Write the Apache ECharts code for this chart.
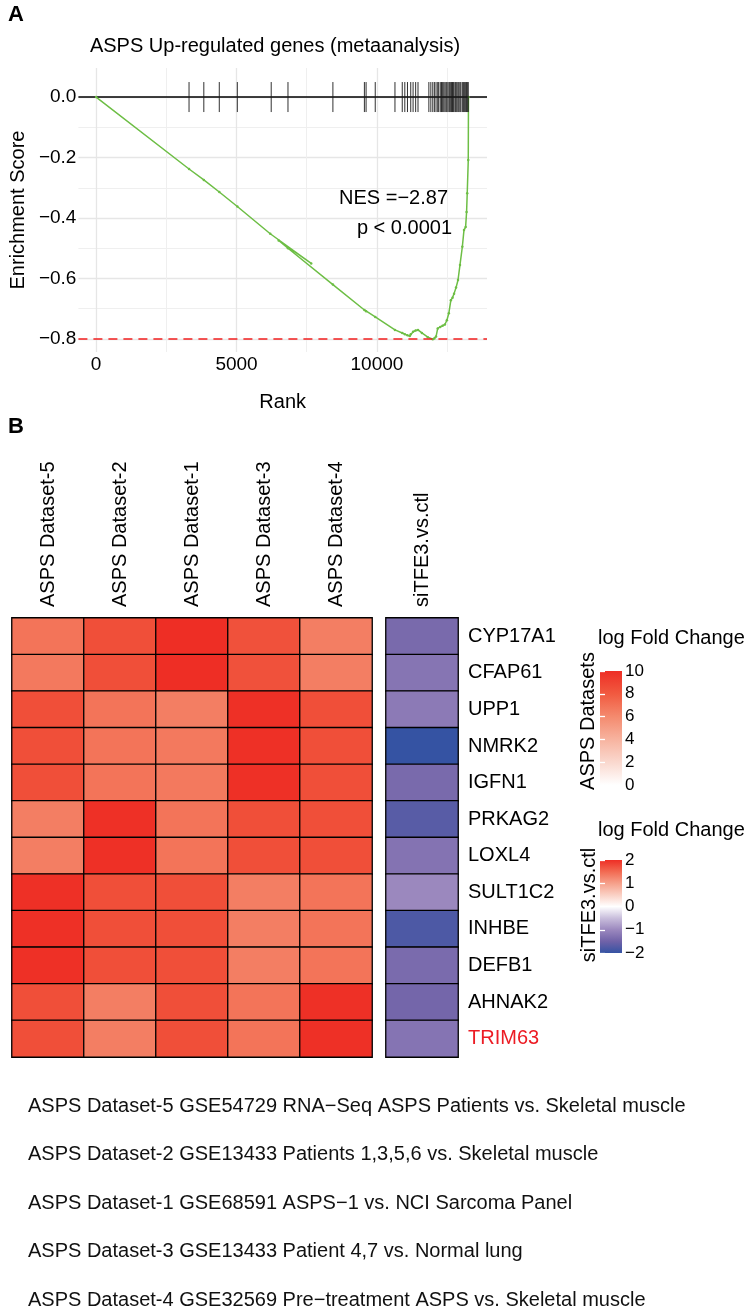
<!DOCTYPE html>
<html>
<head>
<meta charset="utf-8">
<script src="https://cdn.jsdelivr.net/npm/echarts@6/dist/echarts.min.js"></script>
<style>
html,body{margin:0;padding:0;background:#fff;}
#c{width:749px;height:1309px;}
</style>
</head>
<body>
<div id="c"></div>
<script>
// ---------------- DATA ----------------
// Panel A: running enrichment score (rank, ES) in drawing order
const esRank  = [0, 3309, 3835, 4386, 5028, 6200, 7660, 6500, 6832, 8432, 9554, 9614, 9940, 10642, 10902, 10993, 11088, 11170, 11204, 11288, 11379, 11463, 11600, 11813, 11989, 12046, 12105, 12165, 12256, 12340, 12421, 12491, 12560, 12632, 12691, 12747, 12818, 12888, 12958, 13042, 13100, 13158, 13193, 13216, 13253, 13260];
const esScore = [0, -0.238, -0.274, -0.314, -0.362, -0.452, -0.550, -0.474, -0.500, -0.620, -0.704, -0.708, -0.727, -0.770, -0.780, -0.784, -0.788, -0.790, -0.784, -0.776, -0.772, -0.770, -0.780, -0.794, -0.801, -0.798, -0.792, -0.765, -0.760, -0.756, -0.752, -0.738, -0.715, -0.672, -0.664, -0.650, -0.630, -0.605, -0.555, -0.495, -0.440, -0.430, -0.380, -0.318, -0.208, 0];
// gene-set hit positions
const hitRanks = [3309, 3835, 4386, 5028, 6235, 6832, 8432, 9554, 9614, 9940, 10642, 10902, 10993, 11088, 11204, 11288, 11379, 11463, 11849, 11920, 11989, 12046, 12105, 12165, 12200, 12256, 12300, 12340, 12380, 12421, 12460, 12491, 12530, 12572, 12600, 12632, 12660, 12691, 12720, 12747, 12790, 12818, 12850, 12888, 12920, 12958, 12990, 13042, 13080, 13123, 13160, 13193, 13220, 13253];
const esMin = -0.80;
const xMajor = [0, 5000, 10000];
const xMinor = [2500, 7500, 12500];
const yMajor = [-0.8, -0.6, -0.4, -0.2, 0];
const yMinor = [-0.7, -0.5, -0.3, -0.1];
const nesText = 'NES =\u22122.87';
const pText = 'p < 0.0001';

// Panel B: heatmap
const datasets = ['ASPS Dataset-5', 'ASPS Dataset-2', 'ASPS Dataset-1', 'ASPS Dataset-3', 'ASPS Dataset-4'];
const genes = ['CYP17A1', 'CFAP61', 'UPP1', 'NMRK2', 'IGFN1', 'PRKAG2', 'LOXL4', 'SULT1C2', 'INHBE', 'DEFB1', 'AHNAK2', 'TRIM63'];
const ds5 = [6.9, 6.7, 8.5, 8.5, 8.5, 6.5, 6.5, 9.9, 9.9, 9.9, 8.5, 8.5];
const ds2 = [8.5, 8.5, 6.9, 6.9, 6.9, 9.9, 9.9, 8.5, 8.5, 8.5, 6.5, 6.5];
const ds1 = [10, 10, 6.5, 6.7, 6.7, 6.9, 6.9, 8.5, 8.5, 8.5, 8.5, 8.5];
const ds3 = [8.4, 8.4, 9.9, 9.9, 9.9, 8.5, 8.5, 6.5, 6.5, 6.5, 6.9, 6.9];
const ds4 = [6.5, 6.5, 8.5, 8.5, 8.5, 8.5, 8.5, 6.9, 6.9, 6.9, 9.9, 9.9];
const siLabel = 'siTFE3.vs.ctl';
const siTFE3 = [-1.4, -1.25, -1.18, -2.0, -1.4, -1.7, -1.27, -1.0, -1.8, -1.38, -1.45, -1.26];
const legend1Ticks = [0, 2, 4, 6, 8, 10];
const legend2Ticks = [-2, -1, 0, 1, 2];
const notes = [
  'ASPS Dataset-5 GSE54729 RNA\u2212Seq ASPS Patients vs. Skeletal muscle',
  'ASPS Dataset-2 GSE13433 Patients 1,3,5,6 vs. Skeletal muscle',
  'ASPS Dataset-1 GSE68591 ASPS\u22121 vs. NCI Sarcoma Panel',
  'ASPS Dataset-3 GSE13433 Patient 4,7 vs. Normal lung',
  'ASPS Dataset-4 GSE32569 Pre\u2212treatment ASPS vs. Skeletal muscle'
];

// ---------------- STYLE ----------------
const FONT = '"Liberation Sans", Arial, Helvetica, sans-serif';
const redStops = ['#FFFFFF', '#FAD8CE', '#F7B39F', '#F48A6E', '#F15A40', '#EE2E25'];
const divStops = ['#3553A3', '#7062A8', '#9B88BE', '#C9BEDC', '#FFFFFF', '#FAD0C4', '#F6A08A', '#F26A52', '#EE2E25'];
const minus = v => (v < 0 ? '\u2212' + Math.abs(v) : String(v));

const chart = echarts.init(document.getElementById('c'), null, {renderer: 'canvas'});

const esData = esRank.map((r, i) => [r, esScore[i]]);
const hitData = hitRanks.map(r => [r, 0]);
const dsCols = [ds5, ds2, ds1, ds3, ds4];
const heatData = [];
dsCols.forEach((col, j) => col.forEach((v, i) => heatData.push([j, i, v])));
const siData = siTFE3.map((v, i) => [0, i, v]);

function grad(stops) {
  return new echarts.graphic.LinearGradient(0, 1, 0, 0,
    stops.map((c, i) => ({offset: i / (stops.length - 1), color: c})));
}
function barRender(lo, hi, stops) {
  return function (params, api) {
    const p0 = api.coord([0, lo]);
    const p1 = api.coord([1, hi]);
    return {type: 'rect', shape: {x: p0[0], y: p1[1], width: p1[0] - p0[0], height: p0[1] - p1[1]},
      style: {fill: grad(stops)}};
  };
}

const lbl = {fontFamily: FONT, color: '#000'};

const option = {
  backgroundColor: '#fff',
  animation: false,
  textStyle: {fontFamily: FONT},
  grid: [
    {left: 72, top: 68, width: 415, height: 284},   // GSEA
    {left: 12, top: 618, width: 360, height: 439},  // ASPS heatmap
    {left: 386, top: 618, width: 72, height: 439},  // siTFE3
    {left: 600, top: 671, width: 22, height: 114},  // legend 1
    {left: 600, top: 860, width: 22, height: 93}    // legend 2
  ],
  xAxis: [
    {gridIndex: 0, type: 'value', min: -631, max: 13920,
      axisLine: {show: false}, axisTick: {show: false, customValues: xMajor},
      axisLabel: Object.assign({fontSize: 19, margin: 3, customValues: xMajor, formatter: v => String(v)}, lbl),
      splitLine: {show: true, lineStyle: {color: '#E6E6E6', width: 1.3}},
      name: 'Rank', nameLocation: 'middle', nameGap: 40,
      nameTextStyle: Object.assign({fontSize: 20}, lbl)},
    {gridIndex: 0, type: 'value', min: -631, max: 13920, show: true,
      axisLine: {show: false}, axisTick: {show: false, customValues: xMinor},
      axisLabel: {show: false, customValues: xMinor},
      splitLine: {show: true, lineStyle: {color: '#EFEFEF', width: 1}}},
    {gridIndex: 1, type: 'category', data: datasets, position: 'top',
      axisLine: {show: false}, axisTick: {show: false},
      axisLabel: Object.assign({fontSize: 20, rotate: -90, margin: 11, interval: 0}, lbl)},
    {gridIndex: 2, type: 'category', data: [siLabel], position: 'top',
      axisLine: {show: false}, axisTick: {show: false},
      axisLabel: Object.assign({fontSize: 20, rotate: -90, margin: 11, interval: 0}, lbl)},
    {gridIndex: 3, type: 'value', min: 0, max: 1, show: false},
    {gridIndex: 4, type: 'value', min: 0, max: 1, show: false}
  ],
  yAxis: [
    {gridIndex: 0, type: 'value', min: -0.843, max: 0.096,
      axisLine: {show: false}, axisTick: {show: false, customValues: yMajor},
      axisLabel: Object.assign({fontSize: 19, margin: 2, customValues: yMajor,
        formatter: v => (v < 0 ? '\u2212' + Math.abs(v).toFixed(1) : Math.abs(v).toFixed(1))}, lbl),
      splitLine: {show: true, lineStyle: {color: '#E6E6E6', width: 1.3}},
      name: 'Enrichment Score', nameLocation: 'middle', nameGap: 46,
      nameTextStyle: Object.assign({fontSize: 20}, lbl)},
    {gridIndex: 0, type: 'value', min: -0.843, max: 0.096,
      axisLine: {show: false}, axisTick: {show: false, customValues: yMinor},
      axisLabel: {show: false, customValues: yMinor},
      splitLine: {show: true, lineStyle: {color: '#EFEFEF', width: 1}}},
    {gridIndex: 1, type: 'category', data: genes, inverse: true,
      axisLine: {show: false}, axisTick: {show: false}, axisLabel: {show: false}},
    {gridIndex: 2, type: 'category', data: genes, inverse: true, position: 'right',
      axisLine: {show: false}, axisTick: {show: false},
      axisLabel: Object.assign({fontSize: 20, margin: 10, interval: 0,
        formatter: v => (v === 'TRIM63' ? '{r|' + v + '}' : v),
        rich: {r: {color: '#EC1C24', fontSize: 20, fontFamily: FONT}}}, lbl)},
    // legend 1 axes
    {gridIndex: 3, type: 'value', min: 0, max: 10, interval: 2, position: 'right', z: 10,
      axisLine: {show: false},
      axisTick: {show: true, inside: true, length: 5, lineStyle: {color: '#fff', width: 1.3}},
      axisLabel: Object.assign({fontSize: 17, margin: 3}, lbl), splitLine: {show: false}},
    {gridIndex: 3, type: 'value', min: 0, max: 10, interval: 2, position: 'left', z: 10,
      axisLine: {show: false},
      axisTick: {show: true, inside: true, length: 5, lineStyle: {color: '#fff', width: 1.3}},
      axisLabel: {show: false}, splitLine: {show: false}},
    // legend 2 axes
    {gridIndex: 4, type: 'value', min: -2, max: 2, interval: 1, position: 'right', z: 10,
      axisLine: {show: false},
      axisTick: {show: true, inside: true, length: 5, lineStyle: {color: '#fff', width: 1.3}},
      axisLabel: Object.assign({fontSize: 17, margin: 3, formatter: minus}, lbl), splitLine: {show: false}},
    {gridIndex: 4, type: 'value', min: -2, max: 2, interval: 1, position: 'left', z: 10,
      axisLine: {show: false},
      axisTick: {show: true, inside: true, length: 5, lineStyle: {color: '#fff', width: 1.3}},
      axisLabel: {show: false}, splitLine: {show: false}}
  ],
  visualMap: [
    {type: 'continuous', seriesIndex: 2, min: 0, max: 10, show: false, dimension: 2,
      inRange: {color: redStops}},
    {type: 'continuous', seriesIndex: 3, min: -2, max: 2, show: false, dimension: 2,
      inRange: {color: divStops}}
  ],
  series: [
    { // hit ticks
      type: 'custom', xAxisIndex: 0, yAxisIndex: 0, data: hitData, z: 4,
      encode: {x: 0, y: 1},
      renderItem: function (params, api) {
        const r = api.value(0);
        const a = api.coord([r, 0.0496]);
        const b = api.coord([r, -0.0496]);
        return {type: 'line', shape: {x1: a[0], y1: a[1], x2: b[0], y2: b[1]},
          style: {stroke: '#1a1a1a', lineWidth: 0.9}};
      },
      markLine: {silent: true, symbol: ['none', 'none'], label: {show: false}, z: 3,
        lineStyle: {color: '#000', width: 1.6, type: 'solid'},
        data: [{yAxis: 0}]}
    },
    { // running ES
      type: 'line', xAxisIndex: 0, yAxisIndex: 0, data: esData, z: 3,
      showSymbol: true, symbol: 'circle', symbolSize: 2.5,
      itemStyle: {color: '#6DBE45'},
      lineStyle: {color: '#6DBE45', width: 1.5},
      markLine: {silent: true, symbol: ['none', 'none'], label: {show: false},
        lineStyle: {color: '#F21F1F', width: 1.6, type: [9, 6]},
        data: [{yAxis: esMin}]}
    },
    { // ASPS heatmap
      type: 'heatmap', xAxisIndex: 2, yAxisIndex: 2, data: heatData,
      itemStyle: {borderColor: '#000', borderWidth: 1.3}
    },
    { // siTFE3
      type: 'heatmap', xAxisIndex: 3, yAxisIndex: 3, data: siData,
      itemStyle: {borderColor: '#000', borderWidth: 1.3}
    },
    { // legend bar 1
      type: 'custom', xAxisIndex: 4, yAxisIndex: 4, data: [[0, 0]], z: 1, silent: true,
      renderItem: barRender(legend1Ticks[0], legend1Ticks[legend1Ticks.length - 1], redStops)
    },
    { // legend bar 2
      type: 'custom', xAxisIndex: 5, yAxisIndex: 6, data: [[0, 0]], z: 1, silent: true,
      renderItem: barRender(legend2Ticks[0], legend2Ticks[legend2Ticks.length - 1], divStops)
    }
  ],
  graphic: [
    {type: 'text', z: 100, left: 8, top: 4, style: {text: 'A', font: 'bold 22px ' + FONT, fill: '#000'}},
    {type: 'text', z: 100, left: 8, top: 416, style: {text: 'B', font: 'bold 22px ' + FONT, fill: '#000'}},
    {type: 'text', z: 100, x: 275, y: 46, style: {text: 'ASPS Up-regulated genes (metaanalysis)', font: '20px ' + FONT,
      fill: '#000', align: 'center', verticalAlign: 'middle'}},
    {type: 'text', z: 100, x: 448, y: 198, style: {text: nesText, font: '20px ' + FONT, fill: '#000', align: 'right', verticalAlign: 'middle'}},
    {type: 'text', z: 100, x: 452, y: 228, style: {text: pText, font: '20px ' + FONT, fill: '#000', align: 'right', verticalAlign: 'middle'}},
    {type: 'text', z: 100, x: 598, y: 638, style: {text: 'log Fold Change', font: '20px ' + FONT, fill: '#000', verticalAlign: 'middle'}},
    {type: 'text', z: 100, x: 598, y: 830, style: {text: 'log Fold Change', font: '20px ' + FONT, fill: '#000', verticalAlign: 'middle'}},
    {type: 'text', z: 100, x: 588, y: 721, rotation: Math.PI / 2,
      style: {text: 'ASPS Datasets', font: '20px ' + FONT, fill: '#000', align: 'center', verticalAlign: 'middle'}},
    {type: 'text', z: 100, x: 589, y: 905, rotation: Math.PI / 2,
      style: {text: siLabel, font: '20px ' + FONT, fill: '#000', align: 'center', verticalAlign: 'middle'}}
  ].concat(notes.map((t, i) => ({
    type: 'text', z: 100, x: 28, y: 1106 + i * 48.5,
    style: {text: t, font: '20px ' + FONT, fill: '#111', verticalAlign: 'middle'}
  })))
};
chart.setOption(option);
</script>
</body>
</html>
